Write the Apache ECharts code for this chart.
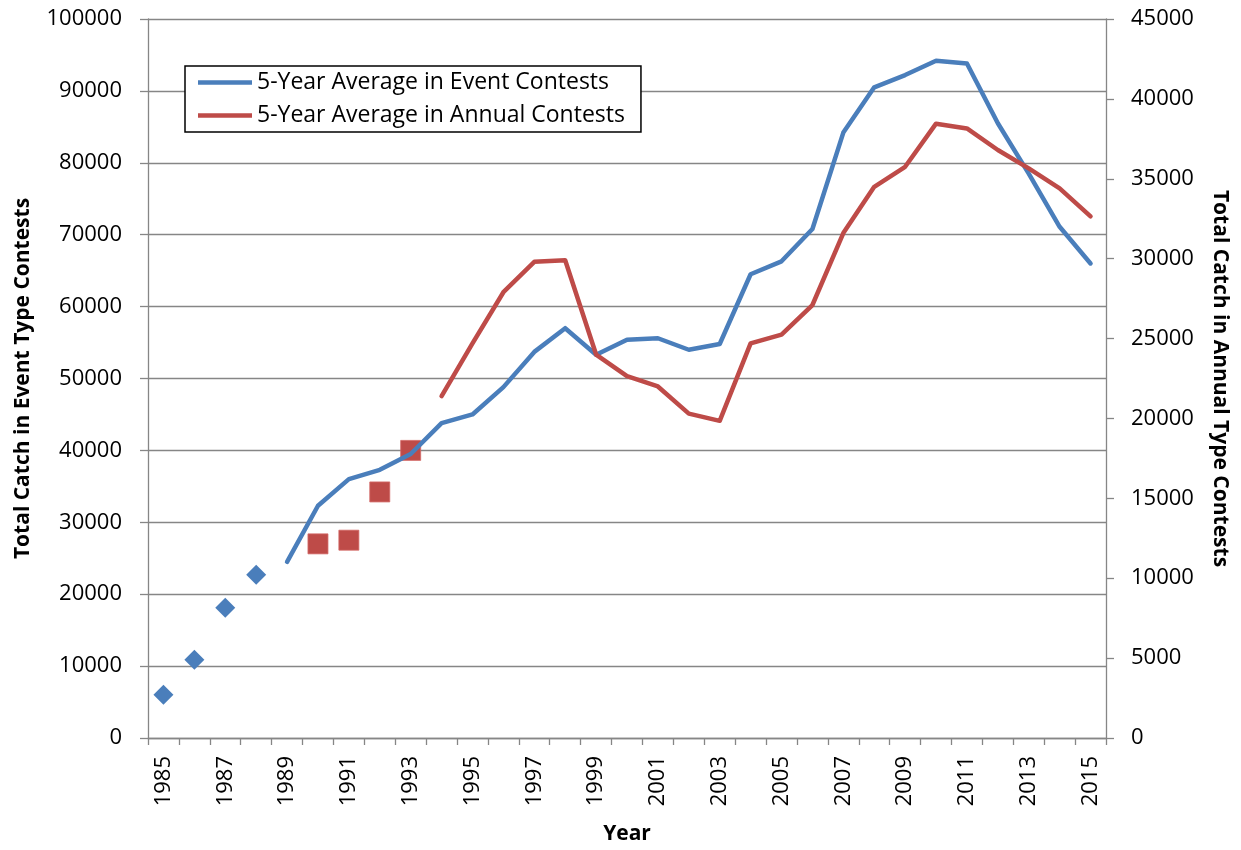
<!DOCTYPE html>
<html>
<head>
<meta charset="utf-8">
<script src="https://cdn.jsdelivr.net/npm/echarts@6/dist/echarts.min.js"></script>
<style>
html,body{margin:0;padding:0;background:#fff;}
#chart{width:1241px;height:850px;}
</style>
</head>
<body>
<div id="chart"></div>
<script>
const years = ['1985','1986','1987','1988','1989','1990','1991','1992','1993','1994','1995','1996','1997','1998','1999','2000','2001','2002','2003','2004','2005','2006','2007','2008','2009','2010','2011','2012','2013','2014','2015'];
// Single-year points (left axis), before 5-year average available
const eventPoints = [6000,10900,18100,22700,null,null,null,null,null,null,null,null,null,null,null,null,null,null,null,null,null,null,null,null,null,null,null,null,null,null,null];
// 5-Year Average in Event Contests (left axis)
const eventAvg = [null,null,null,null,24500,32300,36000,37300,39500,43800,45000,48800,53700,57000,53300,55400,55600,54000,54800,64500,66300,70800,84200,90500,92200,94200,93800,85500,78500,71100,66000];
// Single-year points (right axis)
const annualPoints = [null,null,null,null,null,12150,12380,15400,18000,null,null,null,null,null,null,null,null,null,null,null,null,null,null,null,null,null,null,null,null,null,null];
// 5-Year Average in Annual Contests (right axis)
const annualAvg = [null,null,null,null,null,null,null,null,null,21400,24700,27900,29800,29900,24000,22650,22000,20300,19850,24700,25250,27100,31600,34500,35750,38450,38150,36800,35650,34400,32650];

const blue = '#4A7EBB';
const red = '#BE4B48';
const gray = '#868686';
const font = 'Open Sans';

const chart = echarts.init(document.getElementById('chart'), null, {renderer:'canvas'});
chart.setOption({
  backgroundColor:'#fff',
  animation:false,
  textStyle:{fontFamily:font},
  grid:{left:148, right:135, top:19, bottom:112, containLabel:false, outerBoundsMode:'none'},
  legend:{
    show:true,
    orient:'vertical',
    left:185, top:66,
    data:[{name:'5-Year Average in Event Contests', icon:'rect'},{name:'5-Year Average in Annual Contests', icon:'rect'}],
    itemWidth:54, itemHeight:4.5, itemGap:10,
    padding:[5,16,5,13],
    borderColor:'#000', borderWidth:1.5,
    backgroundColor:'#fff',
    textStyle:{fontFamily:font, fontSize:23, color:'#000', padding:[0,0,0,0]}
  },
  xAxis:{
    type:'category', data:years, boundaryGap:true,
    name:'Year', nameLocation:'middle', nameGap:86,
    nameTextStyle:{fontFamily:font, fontSize:21, fontWeight:'bold', color:'#000'},
    axisLine:{show:true, lineStyle:{color:gray, width:1.3}},
    axisTick:{show:true, interval:0, length:7, lineStyle:{color:gray, width:1.3}},
    axisLabel:{interval:1, rotate:90, fontFamily:font, fontSize:22, color:'#000', margin:18},
    splitLine:{show:false}
  },
  yAxis:[{
    type:'value', min:0, max:100000, interval:10000, position:'left',
    name:'Total Catch in Event Type Contests', nameLocation:'middle', nameGap:114,
    nameTextStyle:{fontFamily:font, fontSize:21, fontWeight:'bold', color:'#000'},
    axisLine:{show:true, lineStyle:{color:gray, width:1.3}},
    axisTick:{show:true, length:8, lineStyle:{color:gray, width:1.3}},
    axisLabel:{fontFamily:font, fontSize:22, color:'#000', margin:26, formatter:(v)=>String(v)},
    splitLine:{show:true, lineStyle:{color:gray, width:1.3}}
  },{
    type:'value', min:0, max:45000, interval:5000, position:'right',
    name:'Total Catch in Annual Type Contests', nameLocation:'middle', nameGap:103, nameRotate:-90,
    nameTextStyle:{fontFamily:font, fontSize:21, fontWeight:'bold', color:'#000'},
    axisLine:{show:true, lineStyle:{color:gray, width:1.3}},
    axisTick:{show:true, length:8, lineStyle:{color:gray, width:1.3}},
    axisLabel:{fontFamily:font, fontSize:22, color:'#000', margin:25, formatter:(v)=>String(v)},
    splitLine:{show:false}
  }],
  series:[
    {name:'5-Year Average in Event Contests', type:'line', yAxisIndex:0, data:eventAvg,
     symbol:'none', connectNulls:false, color:blue, lineStyle:{color:blue, width:4.5, cap:'round', join:'round'}},
    {name:'5-Year Average in Annual Contests', type:'line', yAxisIndex:1, data:annualAvg,
     symbol:'none', connectNulls:false, color:red, lineStyle:{color:red, width:4.5, cap:'round', join:'round'}},
    {name:'eventPts', type:'scatter', yAxisIndex:0, data:eventPoints, symbol:'diamond', symbolSize:[20,20],
     itemStyle:{color:blue, opacity:1}},
    {name:'annualPts', type:'scatter', yAxisIndex:1, data:annualPoints, symbol:'rect', symbolSize:[20,20],
     itemStyle:{color:red, opacity:1, borderColor:'#D36A67', borderWidth:0.8}}
  ]
});
</script>
</body>
</html>
